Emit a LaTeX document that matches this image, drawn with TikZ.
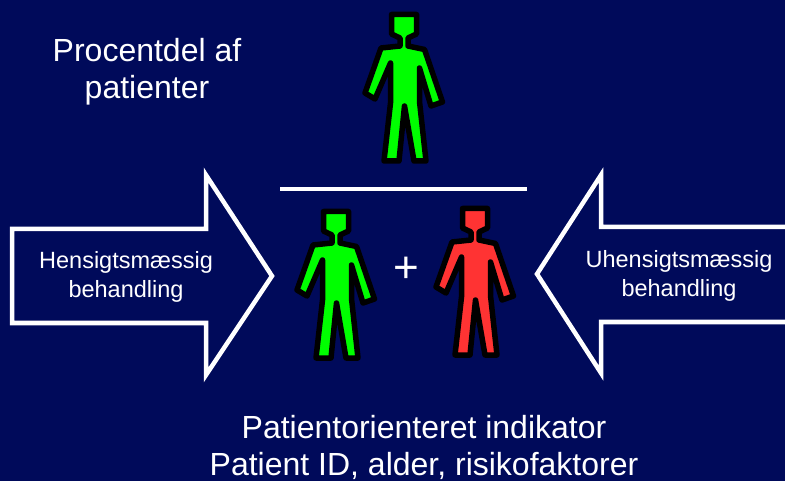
\documentclass[tikz,border=0pt]{standalone}
\usepackage{fontspec}
\setmainfont{Liberation Sans}
\usetikzlibrary{positioning}
\definecolor{navy}{RGB}{0,10,90}
\definecolor{lime}{RGB}{0,255,0}
\definecolor{alarm}{RGB}{255,51,51}
\tikzset{
  pics/person/.style={code={
    \draw[line width=5.5pt,line join=round,fill=#1]
      (-12.5,1.5) -- (12.5,1.5) -- (12.5,21) -- (4,25) -- (4,33) -- (20.5,36.5) -- (38.5,89) -- (27,93)
      -- (15.5,55) -- (15.5,88.5) -- (22,148) -- (10,148) -- (0.5,93) -- (-5,148) -- (-20,148)
      -- (-13.5,90) -- (-13.5,50) -- (-29,86) -- (-39,80) -- (-23,35) -- (-4,33) -- (-4,25)
      -- (-12.5,21) -- cycle;}}
}

\begin{document}
\begin{tikzpicture}[x=1pt,y=-1pt,
  big/.style={text=white,align=center,font=\fontsize{32}{37}\selectfont},
  small/.style={text=white,align=center,font=\fontsize{23.5}{29.5}\selectfont},
  outline/.style={draw=white,line width=4.5pt,line join=miter}]
	\fill[navy] (0,0) rectangle (785,481);
	\clip (0,0) rectangle (785,481);
	% arrows
	\draw[outline] (12,229) -- (206,229) -- (206,175) -- (272,276) -- (206,375) -- (206,323) -- (12,323) -- cycle;
	\draw[outline] (795,227) -- (601,227) -- (601,175) -- (537,274) -- (601,373) -- (601,322) -- (795,322);
	\node[small] (good) at (126,298) [anchor=base] {Hensigtsmæssig\\behandling};
	\node[small] (bad) at (679,297) [anchor=base] {Uhensigtsmæssig\\behandling};
	% fraction
	\pic (upper) at (404,13) {person=lime};
	\draw[white,line width=4pt] (280,189.5) -- (527,189.5);
	\pic (left) at (336,210) {person=lime};
	\pic (right) at (475,207) {person=alarm};
	\node[text=white,font=\fontsize{44}{44}\selectfont] (plus) at (406,270) {+};
	% texts
	\node[big] (share) at (147,99) [anchor=base] {Procentdel af\\patienter};
	\node[big] (indicator) at (424,475) [anchor=base] {Patientorienteret indikator\\Patient ID, alder, risikofaktorer};
\end{tikzpicture}
\end{document}
